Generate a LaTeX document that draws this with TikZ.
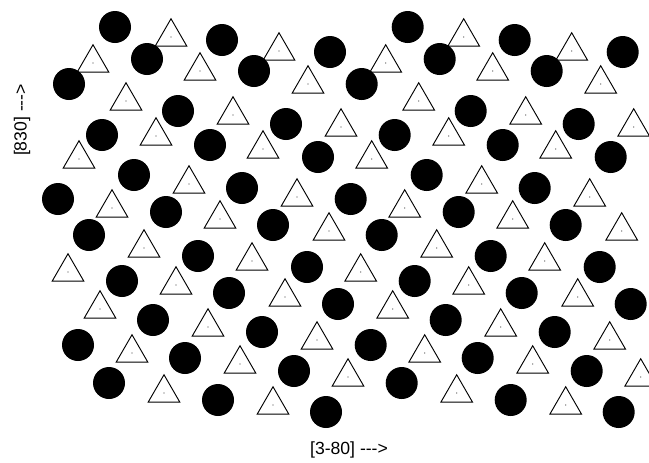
\documentclass[tikz,border=0pt]{standalone}
\usepackage{fontspec}
\newfontfamily\lblfont{Liberation Sans}
\usetikzlibrary{shapes.geometric}
\tikzset{
  blob/.style={circle, fill=black, draw=none, minimum size=24pt, inner sep=0pt},
  tri/.style={regular polygon, regular polygon sides=3, draw=black, line width=0.7pt,
              minimum size=27.4pt, inner sep=0pt},
  pip/.style={circle, fill=black!75, minimum size=0.9pt, inner sep=0pt},
  axlbl/.style={font=\lblfont\fontsize{13.2}{15}\selectfont, inner sep=0pt},
}
\begin{document}
\begin{tikzpicture}[x=0.75pt,y=-0.75pt]
\useasboundingbox (0,0) rectangle (649,462);
% --- triangles (one repeat, then shifted by the period)
\foreach \dx [count=\k] in {0,292.7}{
  \foreach \x/\y [count=\i] in {171/37, 279/51, 93/63, 200/71, 308/84, 126/101, 233/115,
      341/127, 156/136, 263/149, 79/159, 189/184, 297/197, 112/208, 220/219, 329/231,
      144/248, 252/261, 68/272, 176/285, 285/297, 100/309, 208/327, 317/340, 132/353,
      240/364, 348/377, 164/393, 273/405}{
    \node[tri] (t\k-\i) at (\x+\dx,\y) {};
    \node[pip] (p\k-\i) at (t\k-\i.center) {};
  }
}
% --- filled sites
\foreach \dx [count=\k] in {0,292.7}{
  \foreach \x/\y [count=\i] in {115/27, 222/40, 330/52, 147/59, 254/71, 69/84, 178/111,
      286/124, 102/135, 210/145, 318/157, 134/175, 242/188, 58/199, 166/212, 273/225,
      89/235, 198/256, 307/267, 122/281, 229/293, 338/304, 153/320, 262/332, 78/345,
      185/358, 294/371, 109/383, 218/400, 326/412}{
    \node[blob] (c\k-\i) at (\x+\dx,\y) {};
  }
}
% --- direction labels
\node[axlbl] (xdir) at (349,450) {[3-80] -\kern0pt-\kern0pt->};
\node[axlbl,rotate=90] (ydir) at (22,120) {[830] -\kern0pt-\kern0pt->};
\end{tikzpicture}
\end{document}
